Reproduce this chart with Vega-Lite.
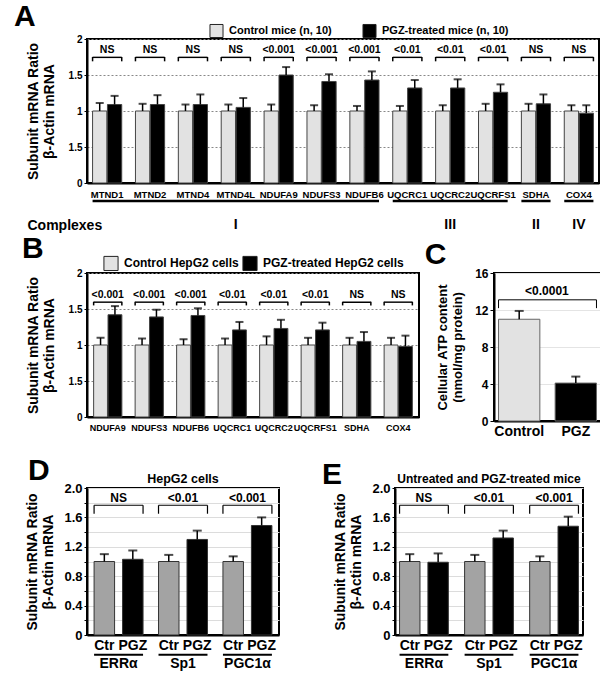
{
  "$schema": "https://vega.github.io/schema/vega-lite/v6.json",
  "padding": {"left": 0, "top": 1, "right": 5, "bottom": 5},
  "background": "white",
  "config": {
    "view": {"stroke": "black", "strokeWidth": 2},
    "font": "Liberation Sans",
    "axis": {"labelFont": "Liberation Sans", "labelFontWeight": "bold", "labelColor": "black", "titleColor": "black", "domainColor": "black", "tickColor": "black", "domainWidth": 2, "titleFont": "Liberation Sans", "titleFontWeight": "bold", "labelOverlap": false},
    "title": {"font": "Liberation Sans", "fontSize": 30, "fontWeight": "bold", "anchor": "start", "frame": "bounds", "color": "black"},
    "legend": {"labelColor": "black"}
  },
  "datasets": {
    "A": [
      {"gene": "MTND1", "cond": "Control mice (n, 10)", "value": 1, "hi": 1.11},
      {"gene": "MTND1", "cond": "PGZ-treated mice (n, 10)", "value": 1.09, "hi": 1.21},
      {"gene": "MTND2", "cond": "Control mice (n, 10)", "value": 1, "hi": 1.10},
      {"gene": "MTND2", "cond": "PGZ-treated mice (n, 10)", "value": 1.09, "hi": 1.22},
      {"gene": "MTND4", "cond": "Control mice (n, 10)", "value": 1, "hi": 1.09},
      {"gene": "MTND4", "cond": "PGZ-treated mice (n, 10)", "value": 1.09, "hi": 1.23},
      {"gene": "MTND4L", "cond": "Control mice (n, 10)", "value": 1, "hi": 1.09},
      {"gene": "MTND4L", "cond": "PGZ-treated mice (n, 10)", "value": 1.05, "hi": 1.18},
      {"gene": "NDUFA9", "cond": "Control mice (n, 10)", "value": 1, "hi": 1.09},
      {"gene": "NDUFA9", "cond": "PGZ-treated mice (n, 10)", "value": 1.50, "hi": 1.61},
      {"gene": "NDUFS3", "cond": "Control mice (n, 10)", "value": 1, "hi": 1.08},
      {"gene": "NDUFS3", "cond": "PGZ-treated mice (n, 10)", "value": 1.41, "hi": 1.51},
      {"gene": "NDUFB6", "cond": "Control mice (n, 10)", "value": 1, "hi": 1.07},
      {"gene": "NDUFB6", "cond": "PGZ-treated mice (n, 10)", "value": 1.43, "hi": 1.55},
      {"gene": "UQCRC1", "cond": "Control mice (n, 10)", "value": 1, "hi": 1.07},
      {"gene": "UQCRC1", "cond": "PGZ-treated mice (n, 10)", "value": 1.32, "hi": 1.43},
      {"gene": "UQCRC2", "cond": "Control mice (n, 10)", "value": 1, "hi": 1.08},
      {"gene": "UQCRC2", "cond": "PGZ-treated mice (n, 10)", "value": 1.32, "hi": 1.44},
      {"gene": "UQCRFS1", "cond": "Control mice (n, 10)", "value": 1, "hi": 1.10},
      {"gene": "UQCRFS1", "cond": "PGZ-treated mice (n, 10)", "value": 1.26, "hi": 1.37},
      {"gene": "SDHA", "cond": "Control mice (n, 10)", "value": 1, "hi": 1.10},
      {"gene": "SDHA", "cond": "PGZ-treated mice (n, 10)", "value": 1.10, "hi": 1.23},
      {"gene": "COX4", "cond": "Control mice (n, 10)", "value": 1, "hi": 1.08},
      {"gene": "COX4", "cond": "PGZ-treated mice (n, 10)", "value": 0.97, "hi": 1.08}
    ],
    "sigA": [
      {"gene": "MTND1", "p": "NS"}, {"gene": "MTND2", "p": "NS"}, {"gene": "MTND4", "p": "NS"}, {"gene": "MTND4L", "p": "NS"},
      {"gene": "NDUFA9", "p": "<0.001"}, {"gene": "NDUFS3", "p": "<0.001"}, {"gene": "NDUFB6", "p": "<0.001"},
      {"gene": "UQCRC1", "p": "<0.01"}, {"gene": "UQCRC2", "p": "<0.01"}, {"gene": "UQCRFS1", "p": "<0.01"},
      {"gene": "SDHA", "p": "NS"}, {"gene": "COX4", "p": "NS"}
    ],
    "cplx": [
      {"grp": "I", "start": "MTND1", "end": "NDUFB6", "mid": "MTND4L"},
      {"grp": "III", "start": "UQCRC1", "end": "UQCRFS1", "mid": "UQCRC2"},
      {"grp": "II", "start": "SDHA", "end": "SDHA", "mid": "SDHA"},
      {"grp": "IV", "start": "COX4", "end": "COX4", "mid": "COX4"}
    ],
    "B": [
      {"gene": "NDUFA9", "cond": "Control HepG2 cells", "value": 1, "hi": 1.10},
      {"gene": "NDUFA9", "cond": "PGZ-treated HepG2 cells", "value": 1.42, "hi": 1.54},
      {"gene": "NDUFS3", "cond": "Control HepG2 cells", "value": 1, "hi": 1.09},
      {"gene": "NDUFS3", "cond": "PGZ-treated HepG2 cells", "value": 1.39, "hi": 1.49},
      {"gene": "NDUFB6", "cond": "Control HepG2 cells", "value": 1, "hi": 1.08},
      {"gene": "NDUFB6", "cond": "PGZ-treated HepG2 cells", "value": 1.41, "hi": 1.51},
      {"gene": "UQCRC1", "cond": "Control HepG2 cells", "value": 1, "hi": 1.09},
      {"gene": "UQCRC1", "cond": "PGZ-treated HepG2 cells", "value": 1.21, "hi": 1.32},
      {"gene": "UQCRC2", "cond": "Control HepG2 cells", "value": 1, "hi": 1.12},
      {"gene": "UQCRC2", "cond": "PGZ-treated HepG2 cells", "value": 1.23, "hi": 1.35},
      {"gene": "UQCRFS1", "cond": "Control HepG2 cells", "value": 1, "hi": 1.10},
      {"gene": "UQCRFS1", "cond": "PGZ-treated HepG2 cells", "value": 1.21, "hi": 1.31},
      {"gene": "SDHA", "cond": "Control HepG2 cells", "value": 1, "hi": 1.10},
      {"gene": "SDHA", "cond": "PGZ-treated HepG2 cells", "value": 1.05, "hi": 1.18},
      {"gene": "COX4", "cond": "Control HepG2 cells", "value": 1, "hi": 1.10},
      {"gene": "COX4", "cond": "PGZ-treated HepG2 cells", "value": 0.98, "hi": 1.13}
    ],
    "sigB": [
      {"gene": "NDUFA9", "p": "<0.001"}, {"gene": "NDUFS3", "p": "<0.001"}, {"gene": "NDUFB6", "p": "<0.001"},
      {"gene": "UQCRC1", "p": "<0.01"}, {"gene": "UQCRC2", "p": "<0.01"}, {"gene": "UQCRFS1", "p": "<0.01"},
      {"gene": "SDHA", "p": "NS"}, {"gene": "COX4", "p": "NS"}
    ],
    "C": [
      {"cond": "Control", "value": 11.0, "hi": 11.9},
      {"cond": "PGZ", "value": 4.1, "hi": 4.8}
    ],
    "sigC": [{"from": "Control", "to": "PGZ", "p": "<0.0001"}],
    "D": [
      {"gene": "ERRα", "cond": "Ctr", "value": 1.0, "hi": 1.10},
      {"gene": "ERRα", "cond": "PGZ", "value": 1.03, "hi": 1.15},
      {"gene": "Sp1", "cond": "Ctr", "value": 1.0, "hi": 1.09},
      {"gene": "Sp1", "cond": "PGZ", "value": 1.30, "hi": 1.42},
      {"gene": "PGC1α", "cond": "Ctr", "value": 1.0, "hi": 1.07},
      {"gene": "PGC1α", "cond": "PGZ", "value": 1.49, "hi": 1.60}
    ],
    "sigD": [{"gene": "ERRα", "p": "NS"}, {"gene": "Sp1", "p": "<0.01"}, {"gene": "PGC1α", "p": "<0.001"}],
    "E": [
      {"gene": "ERRα", "cond": "Ctr", "value": 1.0, "hi": 1.10},
      {"gene": "ERRα", "cond": "PGZ", "value": 0.99, "hi": 1.11},
      {"gene": "Sp1", "cond": "Ctr", "value": 1.0, "hi": 1.09},
      {"gene": "Sp1", "cond": "PGZ", "value": 1.32, "hi": 1.42},
      {"gene": "PGC1α", "cond": "Ctr", "value": 1.0, "hi": 1.07},
      {"gene": "PGC1α", "cond": "PGZ", "value": 1.48, "hi": 1.61}
    ],
    "sigE": [{"gene": "ERRα", "p": "NS"}, {"gene": "Sp1", "p": "<0.01"}, {"gene": "PGC1α", "p": "<0.001"}]
  },
  "spacing": 0,
  "bounds": "full",
  "align": "none",
  "resolve": {"scale": {"color": "independent", "xOffset": "independent", "x": "independent", "y": "independent"}, "legend": {"color": "independent"}},
  "vconcat": [
    {
      "width": 512, "height": 144,
      "title": {"text": "A", "dx": -12, "offset": -9},
      "layer": [
        {"data": {"name": "A"}, "mark": {"type": "bar", "stroke": "#444", "strokeWidth": 1},
         "encoding": {
           "x": {"field": "gene", "type": "nominal", "sort": null,
                 "scale": {"domain": ["MTND1","MTND2","MTND4","MTND4L","NDUFA9","NDUFS3","NDUFB6","UQCRC1","UQCRC2","UQCRFS1","SDHA","COX4"], "paddingInner": 0.32, "paddingOuter": 0.13},
                 "axis": {"title": "Complexes", "titleAnchor": "start", "titleAlign": "left", "titleBaseline": "middle", "titleX": -60, "titleY": 42, "titleFontSize": 14, "labelAngle": 0, "labelFontSize": 9.5, "labelPadding": 6, "ticks": false}},
           "xOffset": {"field": "cond", "type": "nominal", "sort": null, "scale": {"paddingInner": 0.04}},
           "y": {"field": "value", "type": "quantitative", "scale": {"domain": [0, 2], "nice": false},
                 "axis": {"values": [0, 0.5, 1, 1.5, 2], "tickCount": 20, "labelOverlap": false, "labelExpr": "datum.value == 0.5 ? '1.5' : format(datum.value, '~g')", "title": ["Subunit mRNA Ratio", "β-Actin mRNA\u00a0\u00a0\u00a0\u00a0\u00a0\u00a0\u00a0\u00a0"], "titleFontSize": 14, "titlePadding": 12, "labelFontSize": 10, "grid": true, "gridDash": [2, 2], "gridColor": "#888", "tickSize": 3, "labelPadding": 2}},
           "color": {"field": "cond", "type": "nominal", "sort": null, "scale": {"range": ["#e2e2e2", "#000000"]},
                     "legend": {"orient": "none", "legendX": 122, "legendY": -16, "direction": "horizontal", "title": null, "symbolType": "square", "symbolSize": 170, "symbolStrokeColor": "#222", "symbolStrokeWidth": 1, "labelFontSize": 11, "labelFontWeight": "bold", "columnPadding": 28, "labelOffset": 5}}
         }},
        {"data": {"name": "A"}, "mark": {"type": "rule", "color": "black", "strokeWidth": 1.5},
         "encoding": {"x": {"field": "gene", "type": "nominal", "sort": null}, "xOffset": {"field": "cond", "type": "nominal", "sort": null}, "y": {"field": "value", "type": "quantitative"}, "y2": {"field": "hi"}}},
        {"data": {"name": "A"}, "mark": {"type": "tick", "color": "black", "thickness": 2, "size": 8},
         "encoding": {"x": {"field": "gene", "type": "nominal", "sort": null}, "xOffset": {"field": "cond", "type": "nominal", "sort": null}, "y": {"field": "hi", "type": "quantitative"}}},
        {"data": {"name": "sigA"}, "mark": {"type": "bar", "color": "black"},
         "encoding": {"x": {"field": "gene", "type": "nominal", "sort": null}, "y": {"datum": 1.735}, "y2": {"datum": 1.755}}},
        {"data": {"name": "sigA"}, "mark": {"type": "rule", "color": "black", "strokeWidth": 1.5},
         "encoding": {"x": {"field": "gene", "type": "nominal", "sort": null, "bandPosition": 0}, "y": {"datum": 1.69}, "y2": {"datum": 1.75}}},
        {"data": {"name": "sigA"}, "mark": {"type": "rule", "color": "black", "strokeWidth": 1.5},
         "encoding": {"x": {"field": "gene", "type": "nominal", "sort": null, "bandPosition": 1}, "y": {"datum": 1.69}, "y2": {"datum": 1.75}}},
        {"data": {"name": "sigA"}, "mark": {"type": "text", "fontWeight": "bold", "fontSize": 10.5, "baseline": "middle", "color": "black"},
         "encoding": {"x": {"field": "gene", "type": "nominal", "sort": null}, "y": {"datum": 1.85}, "text": {"field": "p"}}},
        {"data": {"name": "cplx"}, "mark": {"type": "rule", "color": "black", "strokeWidth": 2.5},
         "encoding": {"x": {"field": "start", "type": "nominal", "bandPosition": 0}, "x2": {"field": "end", "bandPosition": 1}, "y": {"datum": -0.25}}},
        {"data": {"name": "cplx"}, "mark": {"type": "text", "fontWeight": "bold", "fontSize": 14, "baseline": "middle", "color": "black"},
         "encoding": {"x": {"field": "mid", "type": "nominal"}, "y": {"datum": -0.58}, "text": {"field": "grp"}}}
      ]
    },
    {
      "vconcat": [
        {
          "hconcat": [
            {
              "width": 332, "height": 144,
              "title": {"text": "B", "dx": -4, "offset": -9},
              "layer": [
                {"data": {"name": "B"}, "mark": {"type": "bar", "stroke": "#444", "strokeWidth": 1},
                 "encoding": {
                   "x": {"field": "gene", "type": "nominal", "sort": null,
                         "scale": {"domain": ["NDUFA9","NDUFS3","NDUFB6","UQCRC1","UQCRC2","UQCRFS1","SDHA","COX4"], "paddingInner": 0.32, "paddingOuter": 0.16},
                         "axis": {"title": "\u00a0", "titleAnchor": "start", "titleAlign": "left", "titleX": -60, "titleY": 0, "labelAngle": 0, "labelFontSize": 9, "labelPadding": 6, "ticks": false}},
                   "xOffset": {"field": "cond", "type": "nominal", "sort": null, "scale": {"paddingInner": 0.04}},
                   "y": {"field": "value", "type": "quantitative", "scale": {"domain": [0, 2], "nice": false},
                         "axis": {"values": [0, 0.5, 1, 1.5, 2], "tickCount": 20, "labelOverlap": false, "labelExpr": "datum.value == 0.5 ? '1.5' : format(datum.value, '~g')", "title": ["Subunit mRNA Ratio", "β-Actin mRNA\u00a0\u00a0\u00a0\u00a0\u00a0\u00a0\u00a0\u00a0"], "titleFontSize": 14, "titlePadding": 12, "labelFontSize": 10, "grid": true, "gridDash": [2, 2], "gridColor": "#888", "tickSize": 3, "labelPadding": 2}},
                   "color": {"field": "cond", "type": "nominal", "sort": null, "scale": {"range": ["#e2e2e2", "#000000"]},
                             "legend": {"orient": "none", "legendX": 16, "legendY": -18, "direction": "horizontal", "title": null, "symbolType": "square", "symbolSize": 200, "symbolStrokeColor": "#222", "symbolStrokeWidth": 1, "labelFontSize": 12, "labelFontWeight": "bold", "columnPadding": 1, "labelOffset": 5}}
                 }},
                {"data": {"name": "B"}, "mark": {"type": "rule", "color": "black", "strokeWidth": 1.5},
                 "encoding": {"x": {"field": "gene", "type": "nominal", "sort": null}, "xOffset": {"field": "cond", "type": "nominal", "sort": null}, "y": {"field": "value", "type": "quantitative"}, "y2": {"field": "hi"}}},
                {"data": {"name": "B"}, "mark": {"type": "tick", "color": "black", "thickness": 2, "size": 8},
                 "encoding": {"x": {"field": "gene", "type": "nominal", "sort": null}, "xOffset": {"field": "cond", "type": "nominal", "sort": null}, "y": {"field": "hi", "type": "quantitative"}}},
                {"data": {"name": "sigB"}, "mark": {"type": "bar", "color": "black"},
                 "encoding": {"x": {"field": "gene", "type": "nominal", "sort": null}, "y": {"datum": 1.585}, "y2": {"datum": 1.605}}},
                {"data": {"name": "sigB"}, "mark": {"type": "rule", "color": "black", "strokeWidth": 1.5},
                 "encoding": {"x": {"field": "gene", "type": "nominal", "sort": null, "bandPosition": 0}, "y": {"datum": 1.55}, "y2": {"datum": 1.60}}},
                {"data": {"name": "sigB"}, "mark": {"type": "rule", "color": "black", "strokeWidth": 1.5},
                 "encoding": {"x": {"field": "gene", "type": "nominal", "sort": null, "bandPosition": 1}, "y": {"datum": 1.55}, "y2": {"datum": 1.60}}},
                {"data": {"name": "sigB"}, "mark": {"type": "text", "fontWeight": "bold", "fontSize": 10.5, "baseline": "middle", "color": "black"},
                 "encoding": {"x": {"field": "gene", "type": "nominal", "sort": null}, "y": {"datum": 1.70}, "text": {"field": "p"}}}
              ]
            },
            {
              "width": 107, "height": 148,
              "title": {"text": "C", "dx": -12, "offset": -3},
              "layer": [
                {"data": {"name": "C"}, "mark": {"type": "bar", "stroke": "#666", "strokeWidth": 1},
                 "encoding": {
                   "x": {"field": "cond", "type": "nominal", "sort": null, "scale": {"domain": ["Control", "PGZ"], "paddingInner": 0.27, "paddingOuter": 0.08},
                         "axis": {"title": null, "labelAngle": 0, "labelFontSize": 14, "labelPadding": 3, "ticks": false}},
                   "y": {"field": "value", "type": "quantitative", "scale": {"domain": [0, 16], "nice": false},
                         "axis": {"values": [0, 4, 8, 12, 16], "tickCount": 20, "labelOverlap": false, "title": ["Cellular ATP content", "(nmol/mg protein)"], "titleFontSize": 13, "titlePadding": 10, "labelFontSize": 12, "grid": true, "gridColor": "#e4e4e4", "tickSize": 4, "labelPadding": 2}},
                   "color": {"field": "cond", "type": "nominal", "sort": null, "scale": {"range": ["#e2e2e2", "#000000"]}, "legend": null}
                 }},
                {"data": {"name": "C"}, "mark": {"type": "rule", "color": "black", "strokeWidth": 1.5},
                 "encoding": {"x": {"field": "cond", "type": "nominal", "sort": null}, "y": {"field": "value", "type": "quantitative"}, "y2": {"field": "hi"}}},
                {"data": {"name": "C"}, "mark": {"type": "tick", "color": "black", "thickness": 2, "size": 9},
                 "encoding": {"x": {"field": "cond", "type": "nominal", "sort": null}, "y": {"field": "hi", "type": "quantitative"}}},
                {"data": {"name": "sigC"}, "mark": {"type": "rule", "color": "black", "strokeWidth": 1},
                 "encoding": {"x": {"field": "from", "type": "nominal", "bandPosition": 0}, "x2": {"field": "to", "bandPosition": 1}, "y": {"datum": 13.1}}},
                {"data": {"name": "sigC"}, "mark": {"type": "rule", "color": "black", "strokeWidth": 1},
                 "encoding": {"x": {"field": "from", "type": "nominal", "bandPosition": 0}, "y": {"datum": 12.2}, "y2": {"datum": 13.1}}},
                {"data": {"name": "sigC"}, "mark": {"type": "rule", "color": "black", "strokeWidth": 1},
                 "encoding": {"x": {"field": "to", "type": "nominal", "bandPosition": 1}, "y": {"datum": 12.2}, "y2": {"datum": 13.1}}},
                {"data": {"name": "sigC"}, "mark": {"type": "text", "fontWeight": "bold", "fontSize": 12, "baseline": "middle", "color": "black"},
                 "encoding": {"x": {"field": "from", "type": "nominal", "bandPosition": 1.17}, "y": {"datum": 14.1}, "text": {"field": "p"}}}
              ]
            }
          ],
          "spacing": 75,
          "bounds": "flush",
          "resolve": {"scale": {"color": "independent", "xOffset": "independent", "x": "independent", "y": "independent"}, "legend": {"color": "independent"}}
        },
        {
          "hconcat": [
            {
              "width": 192, "height": 147,
              "title": {"text": "D", "dx": 27, "offset": -13},
              "layer": [
                {"data": {"name": "D"}, "mark": {"type": "bar", "stroke": "#333", "strokeWidth": 1},
                 "encoding": {
                   "x": {"field": "gene", "type": "nominal", "sort": null, "scale": {"domain": ["ERRα", "Sp1", "PGC1α"], "paddingInner": 0.24, "paddingOuter": 0.11},
                         "axis": {"title": "\u00a0", "titleAnchor": "start", "titleAlign": "left", "titleX": -86, "titleY": 0, "labelAngle": 0, "labelFontSize": 14, "labelPadding": 21, "ticks": false}},
                   "xOffset": {"field": "cond", "type": "nominal", "sort": null, "scale": {"domain": ["Ctr", "PGZ"], "paddingInner": 0.28, "paddingOuter": 0}},
                   "y": {"field": "value", "type": "quantitative", "scale": {"domain": [0, 2], "nice": false},
                         "axis": {"values": [0, 0.2, 0.4, 0.6, 0.8, 1, 1.2, 1.4, 1.6, 1.8, 2], "tickCount": 30, "labelOverlap": false, "labelExpr": "round(datum.value*10) % 4 == 0 ? (datum.value == 0 ? '0' : format(datum.value, '.1f')) : ''", "title": ["Subunit mRNA Ratio", "β-Actin mRNA\u00a0\u00a0\u00a0\u00a0\u00a0\u00a0\u00a0\u00a0"], "titleFontSize": 14, "titlePadding": 8, "labelFontSize": 13, "grid": true, "gridColor": "#dcdcdc", "tickSize": 3, "labelPadding": 2}},
                   "color": {"field": "cond", "type": "nominal", "sort": null, "scale": {"domain": ["Ctr", "PGZ"], "range": ["#a3a3a3", "#000000"]}, "legend": null}
                 }},
                {"data": {"name": "D"}, "mark": {"type": "rule", "color": "black", "strokeWidth": 1.5},
                 "encoding": {"x": {"field": "gene", "type": "nominal", "sort": null}, "xOffset": {"field": "cond", "type": "nominal", "sort": null}, "y": {"field": "value", "type": "quantitative"}, "y2": {"field": "hi"}}},
                {"data": {"name": "D"}, "mark": {"type": "tick", "color": "black", "thickness": 2, "size": 9},
                 "encoding": {"x": {"field": "gene", "type": "nominal", "sort": null}, "xOffset": {"field": "cond", "type": "nominal", "sort": null}, "y": {"field": "hi", "type": "quantitative"}}},
                {"data": {"name": "D"}, "mark": {"type": "text", "fontWeight": "bold", "fontSize": 14, "baseline": "middle", "color": "black"},
                 "encoding": {"x": {"field": "gene", "type": "nominal", "sort": null}, "xOffset": {"field": "cond", "type": "nominal", "sort": null}, "y": {"datum": -0.15}, "text": {"field": "cond"}}},
                {"data": {"name": "sigD"}, "mark": {"type": "rule", "color": "black", "strokeWidth": 2},
                 "encoding": {"x": {"field": "gene", "type": "nominal", "sort": null, "bandPosition": 0}, "x2": {"field": "gene", "bandPosition": 1}, "y": {"datum": -0.27}}},
                {"data": {"name": "sigD"}, "mark": {"type": "rule", "color": "black", "strokeWidth": 1.2},
                 "encoding": {"x": {"field": "gene", "type": "nominal", "sort": null, "bandPosition": 0}, "x2": {"field": "gene", "bandPosition": 1}, "y": {"datum": 1.765}}},
                {"data": {"name": "sigD"}, "mark": {"type": "rule", "color": "black", "strokeWidth": 1.2},
                 "encoding": {"x": {"field": "gene", "type": "nominal", "sort": null, "bandPosition": 0}, "y": {"datum": 1.65}, "y2": {"datum": 1.765}}},
                {"data": {"name": "sigD"}, "mark": {"type": "rule", "color": "black", "strokeWidth": 1.2},
                 "encoding": {"x": {"field": "gene", "type": "nominal", "sort": null, "bandPosition": 1}, "y": {"datum": 1.65}, "y2": {"datum": 1.765}}},
                {"data": {"name": "sigD"}, "mark": {"type": "text", "fontWeight": "bold", "fontSize": 12, "baseline": "middle", "color": "black"},
                 "encoding": {"x": {"field": "gene", "type": "nominal", "sort": null}, "y": {"datum": 1.86}, "text": {"field": "p"}}},
                {"data": {"values": [{"t": "HepG2 cells"}]}, "mark": {"type": "text", "fontWeight": "bold", "fontSize": 12.5, "baseline": "bottom", "dy": -2, "color": "black"},
                 "encoding": {"x": {"datum": "Sp1"}, "y": {"datum": 2}, "text": {"field": "t"}}}
              ]
            },
            {
              "width": 188, "height": 147,
              "title": {"text": "E", "dx": -12, "offset": -17},
              "layer": [
                {"data": {"name": "E"}, "mark": {"type": "bar", "stroke": "#333", "strokeWidth": 1},
                 "encoding": {
                   "x": {"field": "gene", "type": "nominal", "sort": null, "scale": {"domain": ["ERRα", "Sp1", "PGC1α"], "paddingInner": 0.25, "paddingOuter": 0.07},
                         "axis": {"title": null, "labelAngle": 0, "labelFontSize": 14, "labelPadding": 21, "ticks": false}},
                   "xOffset": {"field": "cond", "type": "nominal", "sort": null, "scale": {"domain": ["Ctr", "PGZ"], "paddingInner": 0.28, "paddingOuter": 0}},
                   "y": {"field": "value", "type": "quantitative", "scale": {"domain": [0, 2], "nice": false},
                         "axis": {"values": [0, 0.2, 0.4, 0.6, 0.8, 1, 1.2, 1.4, 1.6, 1.8, 2], "tickCount": 30, "labelOverlap": false, "labelExpr": "round(datum.value*10) % 4 == 0 ? (datum.value == 0 ? '0' : format(datum.value, '.1f')) : ''", "title": ["Subunit mRNA Ratio", "β-Actin mRNA\u00a0\u00a0\u00a0\u00a0\u00a0\u00a0\u00a0\u00a0"], "titleFontSize": 14, "titlePadding": 8, "labelFontSize": 13, "grid": true, "gridColor": "#dcdcdc", "tickSize": 3, "labelPadding": 2}},
                   "color": {"field": "cond", "type": "nominal", "sort": null, "scale": {"domain": ["Ctr", "PGZ"], "range": ["#a3a3a3", "#000000"]}, "legend": null}
                 }},
                {"data": {"name": "E"}, "mark": {"type": "rule", "color": "black", "strokeWidth": 1.5},
                 "encoding": {"x": {"field": "gene", "type": "nominal", "sort": null}, "xOffset": {"field": "cond", "type": "nominal", "sort": null}, "y": {"field": "value", "type": "quantitative"}, "y2": {"field": "hi"}}},
                {"data": {"name": "E"}, "mark": {"type": "tick", "color": "black", "thickness": 2, "size": 9},
                 "encoding": {"x": {"field": "gene", "type": "nominal", "sort": null}, "xOffset": {"field": "cond", "type": "nominal", "sort": null}, "y": {"field": "hi", "type": "quantitative"}}},
                {"data": {"name": "E"}, "mark": {"type": "text", "fontWeight": "bold", "fontSize": 14, "baseline": "middle", "color": "black"},
                 "encoding": {"x": {"field": "gene", "type": "nominal", "sort": null}, "xOffset": {"field": "cond", "type": "nominal", "sort": null}, "y": {"datum": -0.15}, "text": {"field": "cond"}}},
                {"data": {"name": "sigE"}, "mark": {"type": "rule", "color": "black", "strokeWidth": 2},
                 "encoding": {"x": {"field": "gene", "type": "nominal", "sort": null, "bandPosition": 0}, "x2": {"field": "gene", "bandPosition": 1}, "y": {"datum": -0.27}}},
                {"data": {"name": "sigE"}, "mark": {"type": "rule", "color": "black", "strokeWidth": 1.2},
                 "encoding": {"x": {"field": "gene", "type": "nominal", "sort": null, "bandPosition": 0}, "x2": {"field": "gene", "bandPosition": 1}, "y": {"datum": 1.765}}},
                {"data": {"name": "sigE"}, "mark": {"type": "rule", "color": "black", "strokeWidth": 1.2},
                 "encoding": {"x": {"field": "gene", "type": "nominal", "sort": null, "bandPosition": 0}, "y": {"datum": 1.65}, "y2": {"datum": 1.765}}},
                {"data": {"name": "sigE"}, "mark": {"type": "rule", "color": "black", "strokeWidth": 1.2},
                 "encoding": {"x": {"field": "gene", "type": "nominal", "sort": null, "bandPosition": 1}, "y": {"datum": 1.65}, "y2": {"datum": 1.765}}},
                {"data": {"name": "sigE"}, "mark": {"type": "text", "fontWeight": "bold", "fontSize": 12, "baseline": "middle", "color": "black"},
                 "encoding": {"x": {"field": "gene", "type": "nominal", "sort": null}, "y": {"datum": 1.86}, "text": {"field": "p"}}},
                {"data": {"values": [{"t": "Untreated and PGZ-treated mice"}]}, "mark": {"type": "text", "fontWeight": "bold", "fontSize": 12, "baseline": "bottom", "dy": -2, "color": "black"},
                 "encoding": {"x": {"datum": "Sp1"}, "y": {"datum": 2}, "text": {"field": "t"}}}
              ]
            }
          ],
          "spacing": 116,
          "bounds": "flush",
          "resolve": {"scale": {"color": "independent", "xOffset": "independent", "x": "independent", "y": "independent"}, "legend": {"color": "independent"}}
        }
      ],
      "spacing": 16,
      "bounds": "full",
      "align": "none",
      "resolve": {"scale": {"color": "independent", "xOffset": "independent", "x": "independent", "y": "independent"}, "legend": {"color": "independent"}}
    }
  ]
}
